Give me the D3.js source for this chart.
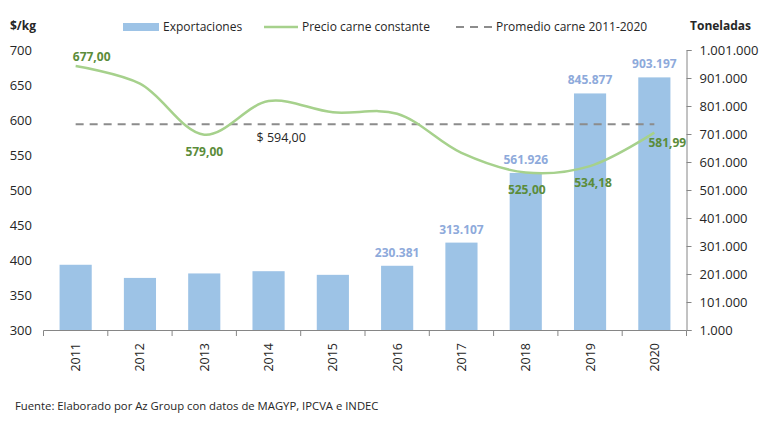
<!DOCTYPE html>
<html><head><meta charset="utf-8">
<script src="https://cdn.jsdelivr.net/npm/d3@7"></script>
<style>
html,body{margin:0;padding:0;background:#fff;}
text{font-family:"Open Sans",sans-serif;}
</style></head>
<body>
<svg id="chart" width="768" height="436"></svg>
<script>
const years = ["2011","2012","2013","2014","2015","2016","2017","2018","2019","2020"];
const exportaciones = [234000,187000,203000,211000,198000,230381,313107,561926,845877,903197];
const precio = [677.00,652,579.00,627,611,609,553,525.00,534.18,581.99];
const promedio = 594;
const leftTicks = [300,350,400,450,500,550,600,650,700];
const rightTicks = [1000,101000,201000,301000,401000,501000,601000,701000,801000,901000,1001000];
const barLabelIdx = [5,6,7,8,9];
const priceLabels = [
  {i:0, text:"677,00"},
  {i:2, text:"579,00"},
  {i:7, text:"525,00"},
  {i:8, text:"534,18"},
  {i:9, text:"581,99"}
];

const loc = d3.formatLocale({decimal:",", thousands:".", grouping:[3], currency:["$",""]});
const fmtR = loc.format(",d");

const svg = d3.select("#chart");
const x = d3.scaleBand().domain(years).range([43.5,686.5]).paddingInner(0.5).paddingOuter(0.25);
const yL = d3.scaleLinear().domain([300,700]).range([330,50]);
const yR = d3.scaleLinear().domain([1000,1001000]).range([330,50]);
const cx = d => x(d) + x.bandwidth()/2;

// bars
svg.append("g").selectAll("rect").data(years).join("rect")
  .attr("x", d => x(d)).attr("width", x.bandwidth())
  .attr("y", (d,i) => yR(exportaciones[i]))
  .attr("height", (d,i) => yR(1000) - yR(exportaciones[i]))
  .attr("fill", "#9dc3e6");

// bar labels
svg.append("g").selectAll("text").data(barLabelIdx).join("text")
  .attr("x", i => cx(years[i])).attr("y", i => yR(exportaciones[i]) - 9)
  .attr("text-anchor","middle").attr("font-size",12).attr("font-weight","bold")
  .attr("fill","#8eaadb").text(i => fmtR(exportaciones[i]));

// average dashed line
svg.append("line")
  .attr("x1", cx(years[0])).attr("x2", cx(years[9]))
  .attr("y1", yL(promedio)).attr("y2", yL(promedio))
  .attr("stroke","#8c8c8c").attr("stroke-width",2).attr("stroke-dasharray","8,6");

// price line
const line = d3.line().x((d,i) => cx(years[i])).y(d => yL(d)).curve(d3.curveCatmullRom.alpha(0.5));
svg.append("path").datum(precio).attr("d", line)
  .attr("fill","none").attr("stroke","#a6d18c").attr("stroke-width",2.5);

// price labels
const offs = {0:[16,-5], 2:[0,21], 7:[1,21], 8:[3,21], 9:[13,14]};
svg.append("g").selectAll("text").data(priceLabels).join("text")
  .attr("x", d => cx(years[d.i]) + offs[d.i][0])
  .attr("y", d => yL(precio[d.i]) + offs[d.i][1])
  .attr("text-anchor","middle").attr("font-size",12).attr("font-weight","bold")
  .attr("fill","#5b8c3a").text(d => d.text);

svg.append("text").attr("x", cx(years[3]) - 12).attr("y", yL(promedio) + 18)
  .attr("font-size",12.5).attr("fill","#262626").text("$ " + loc.format(",.2f")(promedio));

// left axis labels
svg.append("g").selectAll("text").data(leftTicks).join("text")
  .attr("x", 32).attr("y", d => yL(d)).attr("dy","0.35em")
  .attr("text-anchor","end").attr("font-size",13).attr("fill","#262626").text(d => d);

// right axis
const gR = svg.append("g").attr("transform","translate(686.5,0)")
  .call(d3.axisRight(yR).tickValues(rightTicks).tickSize(5).tickPadding(8).tickFormat(fmtR));
gR.select(".domain").attr("stroke","#868686");
gR.selectAll(".tick line").attr("stroke","#868686");
gR.selectAll(".tick text").attr("font-size",13).attr("fill","#262626").attr("font-family","Open Sans, sans-serif");

// bottom axis
const step = x.step(), gap = step - x.bandwidth();
const bounds = years.map(d => x(d) - gap/2).concat([x(years[9]) + x.bandwidth() + gap/2]);
svg.append("line").attr("x1",43.5).attr("x2",686.5).attr("y1",330.5).attr("y2",330.5).attr("stroke","#868686");
svg.append("g").selectAll("line").data(bounds).join("line")
  .attr("x1", d => d).attr("x2", d => d).attr("y1",330.5).attr("y2",336)
  .attr("stroke","#868686");
svg.append("g").selectAll("text").data(years).join("text")
  .attr("transform", d => `translate(${cx(d)+4.5},343) rotate(-90)`)
  .attr("text-anchor","end").attr("font-size",12.5).attr("fill","#262626").text(d => d);

// axis titles
svg.append("text").attr("x",10).attr("y",30).attr("font-size",12).attr("font-weight","bold").attr("fill","#262626").text("$/kg");
svg.append("text").attr("x",690).attr("y",30).attr("font-size",12).attr("font-weight","bold").attr("fill","#262626").text("Toneladas");

// legend
svg.append("rect").attr("x",123).attr("y",23).attr("width",36).attr("height",8).attr("fill","#9dc3e6");
svg.append("text").attr("x",163).attr("y",31).attr("font-size",12).attr("fill","#262626").text("Exportaciones");
svg.append("line").attr("x1",264).attr("x2",298).attr("y1",27).attr("y2",27).attr("stroke","#a6d18c").attr("stroke-width",2.5);
svg.append("text").attr("x",302).attr("y",31).attr("font-size",12).attr("fill","#262626").text("Precio carne constante");
svg.append("line").attr("x1",456).attr("x2",494).attr("y1",27).attr("y2",27).attr("stroke","#8c8c8c").attr("stroke-width",2).attr("stroke-dasharray","8,6");
svg.append("text").attr("x",496).attr("y",31).attr("font-size",12).attr("fill","#262626").text("Promedio carne 2011-2020");

// footer
svg.append("text").attr("x",15).attr("y",410).attr("font-size",11.3).attr("fill","#262626")
  .text("Fuente: Elaborado por Az Group con datos de MAGYP, IPCVA e INDEC");
</script>
</body></html>
